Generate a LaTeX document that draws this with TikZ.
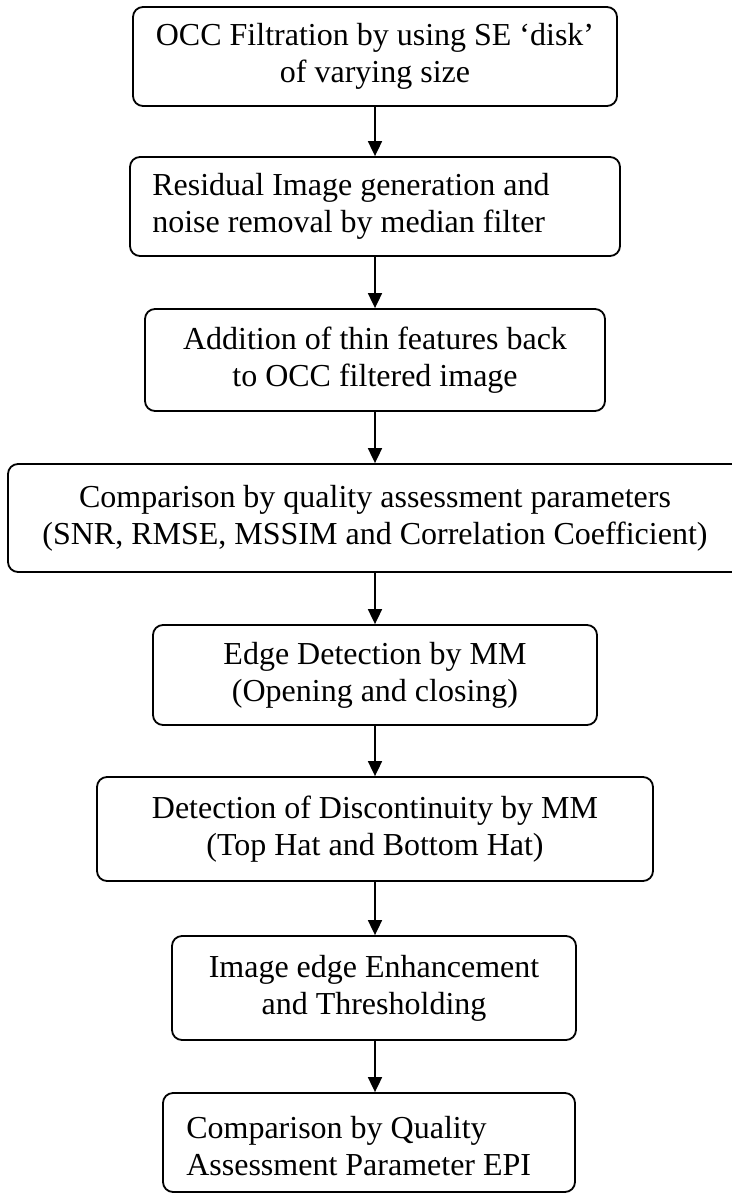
\documentclass[tikz,border=0pt]{standalone}
\usepackage{fontspec}
\setmainfont{Liberation Serif}
\usetikzlibrary{arrows.meta}
\tikzset{
  box/.style={draw, line width=1.8pt, rounded corners=10pt, inner sep=0pt,
    font=\fontsize{32}{37}\selectfont, align=center},
  ltext/.style={anchor=west, inner sep=0pt, font=\fontsize{32}{37}\selectfont, align=left},
  flow/.style={line width=1.8pt, -{Triangle[width=14pt,length=15pt]}}
}
\begin{document}
\begin{tikzpicture}[x=1pt,y=-1pt]
\useasboundingbox (0,0) rectangle (731,1194);
\node[box, minimum width=484pt, minimum height=99pt] (b1) at (375,56.5)
  {OCC Filtration by using SE ‘disk’\\of varying size};
\node[box, minimum width=490pt, minimum height=99pt] (b2) at (375,206.5) {};
\node[ltext] (t2) at ([xshift=23pt]b2.west)
  {Residual Image generation and\\noise removal by median filter};
\node[box, minimum width=460pt, minimum height=102pt] (b3) at (375,360)
  {Addition of thin features back\\to OCC filtered image};
\node[box, minimum width=734pt, minimum height=108pt] (b4) at (375,518)
  {Comparison by quality assessment parameters\\(SNR, RMSE, MSSIM and Correlation Coefficient)};
\node[box, minimum width=444pt, minimum height=100pt] (b5) at (375,675)
  {Edge Detection by MM\\(Opening and closing)};
\node[box, minimum width=556pt, minimum height=104pt] (b6) at (375,829)
  {Detection of Discontinuity by MM\\(Top Hat and Bottom Hat)};
\node[box, minimum width=404pt, minimum height=104pt] (b7) at (374,988)
  {Image edge Enhancement\\and Thresholding};
\node[box, minimum width=412pt, minimum height=99pt] (b8) at (369,1142.5) {};
\node[ltext] (t8) at ([xshift=24pt,yshift=-4pt]b8.west)
  {Comparison by Quality\\Assessment Parameter EPI};
\coordinate (a1) at (375,106);
\draw[flow] (b1.south -| a1) -- (b2.north -| a1);
\draw[flow] (b2.south -| a1) -- (b3.north -| a1);
\draw[flow] (b3.south -| a1) -- (b4.north -| a1);
\draw[flow] (b4.south -| a1) -- (b5.north -| a1);
\draw[flow] (b5.south -| a1) -- (b6.north -| a1);
\draw[flow] (b6.south -| a1) -- (b7.north -| a1);
\draw[flow] (b7.south -| a1) -- (b8.north -| a1);
\end{tikzpicture}
\end{document}
